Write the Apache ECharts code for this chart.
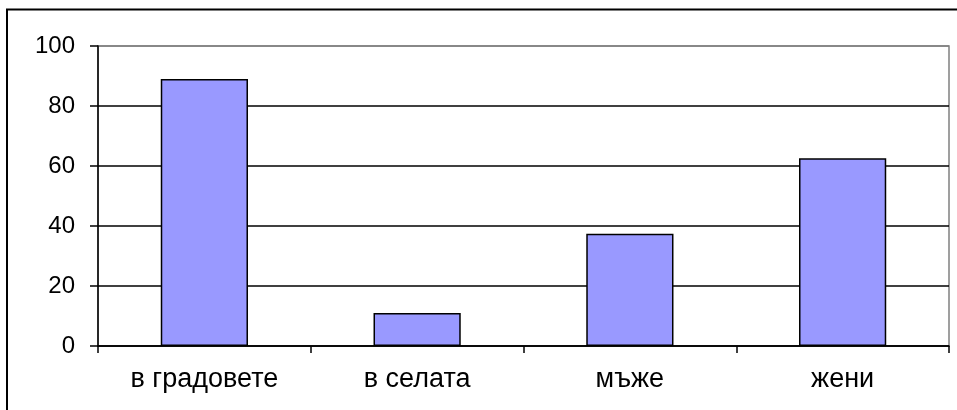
<!DOCTYPE html>
<html>
<head>
<meta charset="utf-8">
<script src="https://cdn.jsdelivr.net/npm/echarts@6/dist/echarts.min.js"></script>
<style>
  html, body { margin: 0; padding: 0; background: #fff; }
  #chart { width: 957px; height: 410px; }
</style>
</head>
<body>
<div id="chart"></div>
<script>
// data
const categories = ['в градовете', 'в селата', 'мъже', 'жени']
const values = [89, 11, 37.4, 62.6]
const yTicks = [0, 20, 40, 60, 80, 100]

const myChart = echarts.init(document.getElementById('chart'))
myChart.setOption({
  animation: false,
  textStyle: { fontFamily: 'Liberation Sans, Arial, sans-serif' },
  graphic: [{
    type: 'rect',
    shape: { x: 7, y: 9.5, width: 1200, height: 1200 },
    style: { fill: 'none', stroke: '#000', lineWidth: 2 },
    silent: true
  }],
  grid: {
    left: 98,
    right: 8,
    top: 46,
    bottom: 64,
    show: true,
    borderColor: '#808080',
    borderWidth: 1.5
  },
  xAxis: {
    type: 'category',
    data: categories,
    axisLine: { lineStyle: { color: '#000', width: 1.5 } },
    axisTick: { show: true, interval: 0, length: 7, lineStyle: { color: '#000', width: 1.5 } },
    axisLabel: { color: '#000', fontSize: 27, margin: 20, interval: 0 }
  },
  yAxis: {
    type: 'value',
    min: yTicks[0],
    max: yTicks[yTicks.length - 1],
    interval: 20,
    axisLine: { show: true, lineStyle: { color: '#000', width: 1.5 } },
    axisTick: { show: true, length: 8, lineStyle: { color: '#000', width: 1.5 } },
    axisLabel: { color: '#000', fontSize: 24, margin: 23 },
    splitLine: {
      lineStyle: { color: ['#000', '#000', '#000', '#000', '#000', '#808080'], width: 1.5 }
    }
  },
  series: [{
    type: 'bar',
    data: values,
    barWidth: '41%',
    itemStyle: { color: '#9999ff', borderColor: '#000', borderWidth: 1.5 }
  }]
})
</script>
</body>
</html>
